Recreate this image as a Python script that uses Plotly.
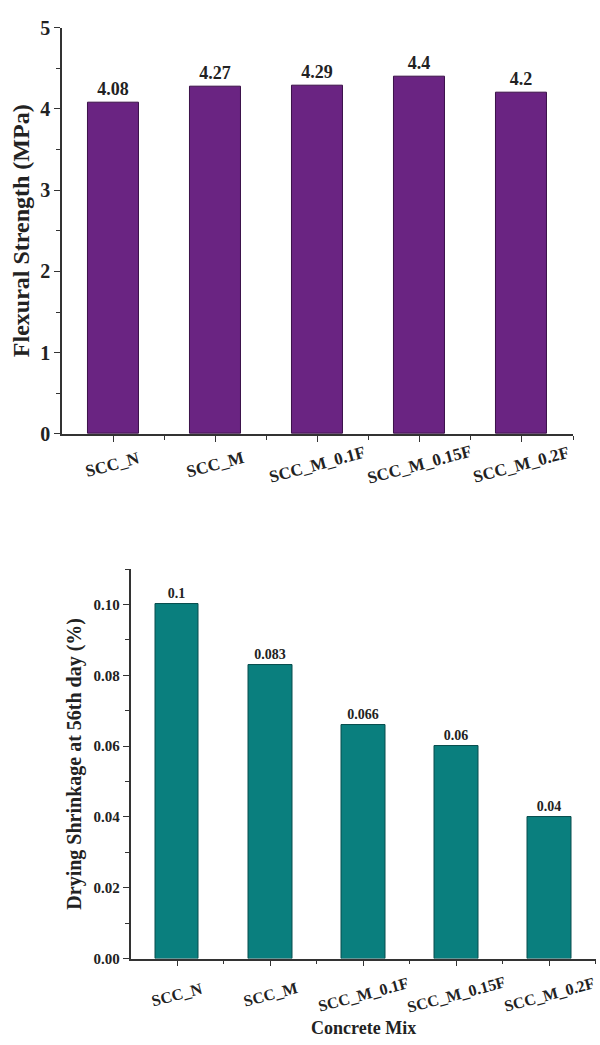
import plotly.graph_objects as go

# Concrete mixes and measured properties
mixes = ["SCC_N", "SCC_M", "SCC_M_0.1F", "SCC_M_0.15F", "SCC_M_0.2F"]
flexural_mpa = [4.08, 4.27, 4.29, 4.4, 4.2]
shrinkage_pct = [0.1, 0.083, 0.066, 0.06, 0.04]

positions = list(range(len(mixes)))
SERIF = "Liberation Serif, Times New Roman, serif"
AXIS_COLOR = "#333333"
TEXT_COLOR = "#222"

fig = go.Figure()

fig.add_trace(go.Bar(
    x=positions, y=flexural_mpa, width=0.5,
    marker=dict(color="#6A2482", line=dict(color="#3a1048", width=1)),
    text=[str(v) for v in flexural_mpa], textposition="outside",
    textfont=dict(family=SERIF, size=18, color=TEXT_COLOR, weight="bold"),
    cliponaxis=False, xaxis="x", yaxis="y", showlegend=False,
))

fig.add_trace(go.Bar(
    x=positions, y=shrinkage_pct, width=0.47,
    marker=dict(color="#0A7F7E", line=dict(color="#064c4c", width=1)),
    text=[str(v) for v in shrinkage_pct], textposition="outside",
    textfont=dict(family=SERIF, size=14, color=TEXT_COLOR, weight="bold"),
    cliponaxis=False, xaxis="x2", yaxis="y2", showlegend=False,
))


def x_axis(domain, anchor):
    return dict(
        domain=domain, anchor=anchor, range=[-0.5, len(mixes) - 0.5],
        tickmode="array", tickvals=positions, showticklabels=False,
        showline=True, linecolor=AXIS_COLOR, linewidth=1.5,
        ticks="outside", ticklen=6, tickwidth=1.2, tickcolor=AXIS_COLOR,
        minor=dict(tickvals=[p + 0.5 for p in positions], ticks="outside",
                   ticklen=4, tickwidth=1, tickcolor=AXIS_COLOR),
        showgrid=False, zeroline=False, fixedrange=True,
    )


def y_axis(domain, anchor, rng, dtick, minor_dtick, fmt, size, title, title_size, standoff):
    return dict(
        domain=domain, anchor=anchor, range=rng, dtick=dtick, tick0=0,
        tickformat=fmt,
        tickfont=dict(family=SERIF, size=size, color=TEXT_COLOR, weight="bold"),
        title=dict(text=title, standoff=standoff,
                   font=dict(family=SERIF, size=title_size, color=TEXT_COLOR, weight="bold")),
        showline=True, linecolor=AXIS_COLOR, linewidth=1.5,
        ticks="outside", ticklen=6, tickwidth=1.2, tickcolor=AXIS_COLOR,
        minor=dict(dtick=minor_dtick, tick0=0, ticks="outside",
                   ticklen=4, tickwidth=1, tickcolor=AXIS_COLOR),
        showgrid=False, zeroline=False, fixedrange=True,
    )


# Tilted category labels, centred under each tick
annotations = []
for xref, yref, size, shift in (("x", "y", 17, -31), ("x2", "y2", 16, -36)):
    for pos, name in zip(positions, mixes):
        annotations.append(dict(
            x=pos, y=0, xref=xref, yref=yref, text=name, showarrow=False,
            textangle=-15, xanchor="center", yanchor="middle", yshift=shift,
            font=dict(family=SERIF, size=size, color=TEXT_COLOR, weight="bold"),
        ))

annotations.append(dict(
    x=0.605, y=0.006, xref="paper", yref="paper", text="Concrete Mix",
    showarrow=False, xanchor="center", yanchor="middle",
    font=dict(family=SERIF, size=18, color=TEXT_COLOR, weight="bold"),
))

fig.update_layout(
    width=600, height=1045,
    margin=dict(l=0, r=0, t=0, b=0),
    paper_bgcolor="white", plot_bgcolor="white",
    bargap=0,
    xaxis=x_axis([0.1033, 0.955], "y"),
    yaxis=y_axis([0.5866, 0.9837], "x", [0, 5], 1, 0.5, "d", 20,
                 "Flexural Strength (MPa)", 24, 4),
    xaxis2=x_axis([0.2175, 0.9933], "y2"),
    yaxis2=y_axis([0.0737, 0.4545], "x2", [0, 0.11], 0.02, 0.01, ".2f", 15,
                  "Drying Shrinkage at 56th day (%)", 20, 6),
    annotations=annotations,
)

fig.write_html("out.html")
